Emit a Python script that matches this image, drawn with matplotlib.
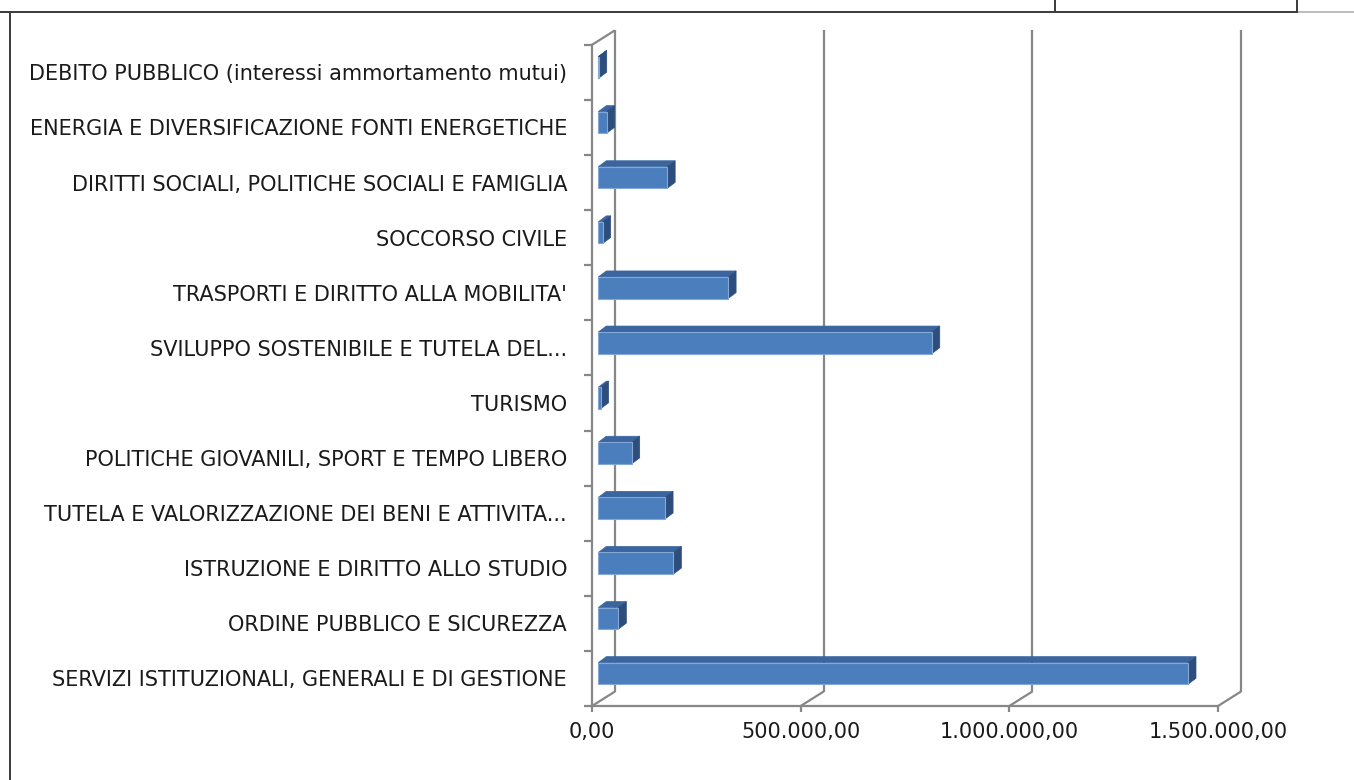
import matplotlib

matplotlib.use("Agg")
import matplotlib.pyplot as plt
from matplotlib.lines import Line2D
from matplotlib.patches import Polygon
from matplotlib.ticker import FuncFormatter

# categories listed bottom -> top, as drawn
categories = [
    "SERVIZI ISTITUZIONALI, GENERALI E DI GESTIONE",
    "ORDINE PUBBLICO E SICUREZZA",
    "ISTRUZIONE E DIRITTO ALLO STUDIO",
    "TUTELA E VALORIZZAZIONE DEI BENI E ATTIVITA...",
    "POLITICHE GIOVANILI, SPORT E TEMPO LIBERO",
    "TURISMO",
    "SVILUPPO SOSTENIBILE E TUTELA DEL...",
    "TRASPORTI E DIRITTO ALLA MOBILITA'",
    "SOCCORSO CIVILE",
    "DIRITTI SOCIALI, POLITICHE SOCIALI E FAMIGLIA",
    "ENERGIA E DIVERSIFICAZIONE FONTI ENERGETICHE",
    "DEBITO PUBBLICO (interessi ammortamento mutui)",
]
values = [
    1413000, 48000, 180000, 160000, 80000, 5500,
    799000, 311000, 10500, 165000, 20000, 1000,
]
x_ticks = [0, 500000, 1000000, 1500000]

W, H, DPI = 1354, 780, 100
GRID = "#878787"
FRONT, TOP, SIDE, EDGE = "#4A7EBD", "#3B659F", "#2D4E7C", "#86A8D6"


def it_fmt(v, _pos=None):
    s = f"{v:,.2f}"
    return s.replace(",", "X").replace(".", ",").replace("X", ".")


fig = plt.figure(figsize=(W / DPI, H / DPI), dpi=DPI)
fig.patch.set_facecolor("white")

# document table frame around the chart
frame = dict(color="#3a3a3a", lw=1.4, transform=fig.transFigure)
fig.add_artist(Line2D([0, 1297 / W], [1 - 12 / H] * 2, **frame))
fig.add_artist(Line2D([1297 / W, 1.0], [1 - 12 / H] * 2, color="#b0b0b0", lw=1.2, transform=fig.transFigure))
fig.add_artist(Line2D([10 / W] * 2, [0, 1 - 12 / H], **frame))
fig.add_artist(Line2D([1055 / W] * 2, [1 - 12 / H, 1], **frame))
fig.add_artist(Line2D([1297 / W] * 2, [1 - 12 / H, 1], **frame))

x0, x1, ytop, ybot = 592, 1218, 44.8, 706
ax = fig.add_axes([x0 / W, 1 - ybot / H, (x1 - x0) / W, (ybot - ytop) / H])
n = len(categories)
xmax = x_ticks[-1]
ax.set_xlim(0, xmax)
ax.set_ylim(-0.5, n - 0.5)
ax.set_facecolor("none")

# pixel -> data helpers for the oblique 3D look
ux = xmax / (x1 - x0)
uy = n / (ybot - ytop)
wall_dx, wall_dy = 23 * ux, 14.5 * uy
bar_dx0, bar_dy0 = 6.3 * ux, 5.0 * uy
bar_ddx, bar_ddy = 8 * ux, 6 * uy
bar_h = 21.6 * uy

line_kw = dict(color=GRID, lw=1.6, clip_on=False, solid_capstyle="butt")
# back wall gridlines and floor diagonals
for v in x_ticks:
    ax.plot([v + wall_dx] * 2, [-0.5 + wall_dy, n - 0.5 + wall_dy], zorder=1, **line_kw)
    ax.plot([v, v + wall_dx], [-0.5, -0.5 + wall_dy], zorder=1, **line_kw)
# top edge of the side wall
ax.plot([0, wall_dx], [n - 0.5, n - 0.5 + wall_dy], zorder=1, **line_kw)

# 3D-looking bars
for i, v in enumerate(values):
    xl = bar_dx0
    xr = bar_dx0 + v
    yb = i + bar_dy0 - bar_h / 2
    yt = i + bar_dy0 + bar_h / 2
    top = [(xl, yt), (xr, yt), (xr + bar_ddx, yt + bar_ddy), (xl + bar_ddx, yt + bar_ddy)]
    side = [(xr, yb), (xr + bar_ddx, yb + bar_ddy), (xr + bar_ddx, yt + bar_ddy), (xr, yt)]
    ax.add_patch(Polygon(top, closed=True, fc=TOP, ec=TOP, lw=0.5, zorder=3))
    ax.add_patch(Polygon(side, closed=True, fc=SIDE, ec=SIDE, lw=0.5, zorder=3))
    ax.barh(i + bar_dy0, v, left=xl, height=bar_h, color=FRONT, edgecolor=EDGE, lw=0.8, zorder=4)

for s in ["top", "right"]:
    ax.spines[s].set_visible(False)
for s in ["left", "bottom"]:
    ax.spines[s].set_color(GRID)
    ax.spines[s].set_linewidth(1.6)

font = ["DejaVu Sans"]
ax.set_yticks(range(n))
ax.set_yticklabels(categories, family=font, fontsize=15, color="#1a1a1a")
ax.set_yticks([i - 0.5 for i in range(n + 1)], minor=True)
ax.tick_params(axis="y", which="major", length=0, pad=18)
ax.tick_params(axis="y", which="minor", length=5.8, width=1.6, color=GRID)

ax.set_xticks(x_ticks)
ax.xaxis.set_major_formatter(FuncFormatter(it_fmt))
ax.tick_params(axis="x", which="major", length=4.3, width=1.6, color=GRID, pad=7,
               labelsize=15, labelcolor="#1a1a1a")
for lab in ax.get_xticklabels():
    lab.set_family(font)

fig.savefig("out.png", dpi=DPI)
